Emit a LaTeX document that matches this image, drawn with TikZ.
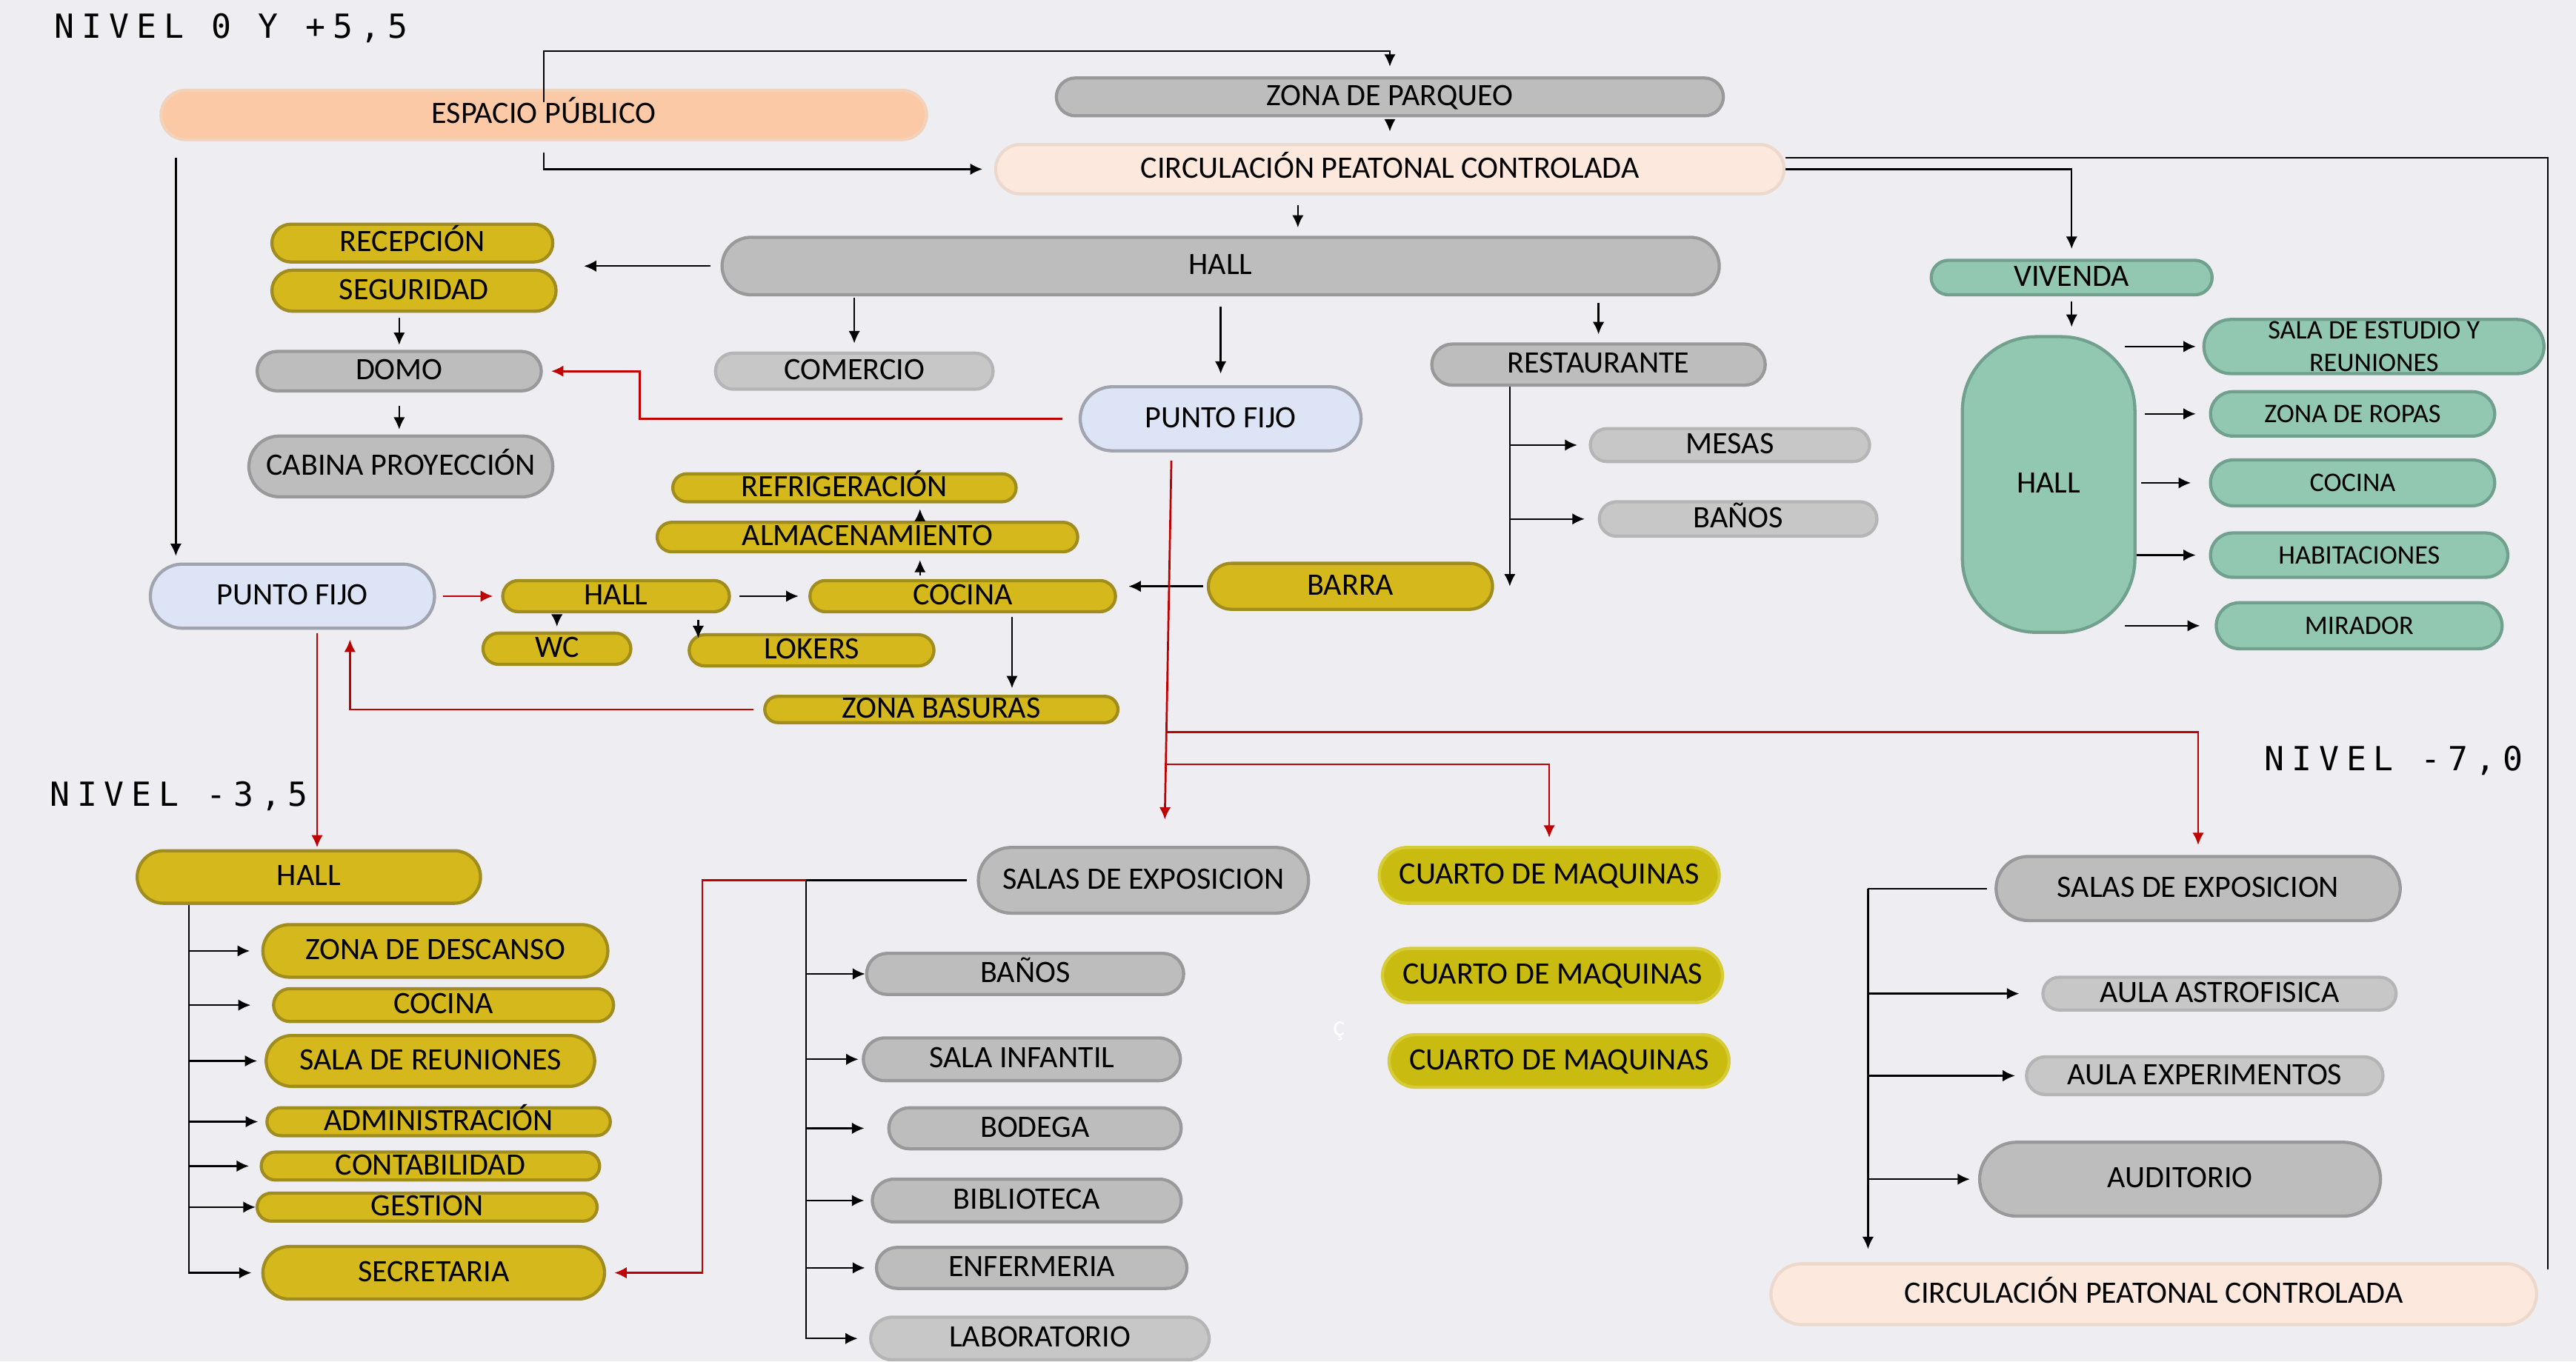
\documentclass[tikz,border=0pt]{standalone}
\usepackage{fontspec}
\setmainfont{Carlito}
\newfontfamily\levelfont[LetterSpace=22]{DejaVu Sans Mono}
\usepackage{tikz}
\usetikzlibrary{arrows.meta, calc, shapes.misc}

\definecolor{fondo}{HTML}{EEEEF2}
\definecolor{grisF}{HTML}{BDBDBD}
\definecolor{grisL}{HTML}{999999}
\definecolor{grisC}{HTML}{C7C7C7}
\definecolor{grisCL}{HTML}{B5B5B5}
\definecolor{amaF}{HTML}{D4B81C}
\definecolor{amaL}{HTML}{A18D1E}
\definecolor{maqF}{HTML}{C9BB10}
\definecolor{maqL}{HTML}{D6CC3A}
\definecolor{verdeF}{HTML}{92C8B2}
\definecolor{verdeL}{HTML}{72A08E}
\definecolor{azulF}{HTML}{DCE4F6}
\definecolor{azulL}{HTML}{A0A4AE}
\definecolor{durF}{HTML}{FBC9A6}
\definecolor{durL}{HTML}{F3D2BC}
\definecolor{pielF}{HTML}{FCE8DC}
\definecolor{pielL}{HTML}{ECD8CC}
\definecolor{rojo}{HTML}{C00000}

\tikzset{
    caja/.style={rounded rectangle, line width=1.1pt, inner xsep=2pt, inner ysep=0pt,
        text height=7pt, text depth=1pt, font=\fontsize{10.8}{12}\selectfont},
    tam/.style 2 args={minimum width=#1*0.2mm, minimum height=#2*0.2mm},
    gris/.style={caja, fill=grisF, draw=grisL},
    grisc/.style={caja, fill=grisC, draw=grisCL},
    amarillo/.style={caja, fill=amaF, draw=amaL},
    maquina/.style={caja, fill=maqF, draw=maqL},
    verde/.style={caja, fill=verdeF, draw=verdeL},
    pieza/.style={verde, font=\fontsize{9.3}{11.2}\selectfont},
    azul/.style={caja, fill=azulF, draw=azulL},
    durazno/.style={caja, fill=durF, draw=durL},
    piel/.style={caja, fill=pielF, draw=pielL},
    nivel/.style={anchor=west, inner sep=0pt, font=\levelfont\fontsize{11.5}{13}\selectfont},
    linea/.style={line width=0.6pt},
    flecha/.style={linea, -{Latex[length=1.5mm, width=1.4mm]}},
    roja/.style={flecha, draw=rojo, line width=0.7pt}
}

\begin{document}
\begin{tikzpicture}[x=0.2mm, y=-0.2mm]
    \path[use as bounding box, fill=fondo] (0,0) rectangle (1568,829);

    \node[nivel] (nivA) at (33,17) {NIVEL 0 Y +5,5};
    \node[nivel] (nivB) at (30,485) {NIVEL -3,5};
    \node[nivel] (nivC) at (1378,463) {NIVEL -7,0};

    \node[durazno, tam={473}{30}] (esp) at (331,70) {ESPACIO PÚBLICO};
    \node[gris, tam={413}{23}] (parq) at (846,59) {ZONA DE PARQUEO};
    \node[piel, tam={487}{30}] (circ) at (846,103) {CIRCULACIÓN PEATONAL CONTROLADA};
    \node[gris, tam={614}{35}] (hallA) at (743,162) {HALL};
    \node[amarillo, tam={178}{23}] (rec) at (251,148) {RECEPCIÓN};
    \node[amarillo, tam={180}{25}] (seg) at (252,177) {SEGURIDAD};
    \node[gris, tam={180}{24}] (domo) at (243,226) {DOMO};
    \node[gris, tam={192}{37}] (cab) at (244,284) {CABINA PROYECCIÓN};
    \node[grisc, tam={176}{22}] (com) at (520,226) {COMERCIO};
    \node[azul, tam={178}{39}] (pfA) at (743,255) {PUNTO FIJO};
    \node[gris, tam={210}{25}] (rest) at (973,222) {RESTAURANTE};
    \node[grisc, tam={177}{20}] (mesas) at (1053,271) {MESAS};
    \node[grisc, tam={176}{21}] (banA) at (1058,316) {BAÑOS};
    \node[amarillo, tam={180}{28}] (barra) at (822,357) {BARRA};
    \node[amarillo, tam={216}{17}] (refri) at (514,297) {REFRIGERACIÓN};
    \node[amarillo, tam={263}{18}] (alma) at (528,327) {ALMACENAMIENTO};
    \node[amarillo, tam={193}{19}] (cocA) at (586,363) {COCINA};
    \node[amarillo, tam={145}{19}] (hallB) at (375,363) {HALL};
    \node[amarillo, tam={97}{19}] (wc) at (339,395) {WC};
    \node[amarillo, tam={156}{19}] (lok) at (494,396) {LOKERS};
    \node[amarillo, tam={222}{16}] (bas) at (573,432) {ZONA BASURAS};
    \node[azul, tam={180}{39}] (pfB) at (178,363) {PUNTO FIJO};

    \node[verde, tam={178}{21}] (viv) at (1261,169) {VIVENDA};
    \node[verde, rectangle, rounded corners=9mm, tam={105}{180}] (hallV) at (1247,295) {HALL};
    \node[pieza, tam={214}{33}, align=center, text height=, text depth=] (est) at (1445,211) {SALA DE ESTUDIO Y\\REUNIONES};
    \node[pieza, tam={180}{27}] (ropa) at (1432,252) {ZONA DE ROPAS};
    \node[pieza, tam={180}{28}] (cocV) at (1432,294) {COCINA};
    \node[pieza, tam={188}{27}] (hab) at (1436,338) {HABITACIONES};
    \node[pieza, tam={181}{28}] (mir) at (1436,381) {MIRADOR};

    \node[amarillo, tam={216}{32}] (hallC) at (188,534) {HALL};
    \node[amarillo, tam={217}{32}] (desc) at (265,579) {ZONA DE DESCANSO};
    \node[amarillo, tam={214}{20}] (cocC) at (270,612) {COCINA};
    \node[amarillo, tam={207}{31}] (reun) at (262,646) {SALA DE REUNIONES};
    \node[amarillo, tam={216}{17}] (adm) at (267,683) {ADMINISTRACIÓN};
    \node[amarillo, tam={213}{17}] (cont) at (262,710) {CONTABILIDAD};
    \node[amarillo, tam={214}{17}] (gest) at (260,735) {GESTION};
    \node[amarillo, tam={215}{32}] (secr) at (264,775) {SECRETARIA};

    \node[gris, tam={208}{40}] (salB) at (696,536) {SALAS DE EXPOSICION};
    \node[gris, tam={200}{25}] (banB) at (624,593) {BAÑOS};
    \node[gris, tam={200}{26}] (inf) at (622,645) {SALA INFANTIL};
    \node[gris, tam={185}{25}] (bod) at (630,687) {BODEGA};
    \node[gris, tam={195}{26}] (bib) at (625,731) {BIBLIOTECA};
    \node[gris, tam={196}{25}] (enf) at (628,772) {ENFERMERIA};
    \node[grisc, tam={213}{26}] (lab) at (633,815) {LABORATORIO};
    \node[maquina, tam={214}{34}] (maqA) at (943,533) {CUARTO DE MAQUINAS};
    \node[maquina, tam={214}{33}] (maqB) at (945,594) {CUARTO DE MAQUINAS};
    \node[maquina, tam={214}{32}] (maqC) at (949,646) {CUARTO DE MAQUINAS};
    \node[text=white, inner sep=0pt] (ced) at (815,628) {ç};

    \node[gris, tam={253}{39}] (salC) at (1338,541) {SALAS DE EXPOSICION};
    \node[grisc, tam={222}{20}] (astro) at (1351,605) {AULA ASTROFISICA};
    \node[grisc, tam={224}{23}] (expe) at (1342,655) {AULA EXPERIMENTOS};
    \node[gris, tam={251}{45}] (aud) at (1327,718) {AUDITORIO};
    \node[piel, tam={473}{37}] (circB) at (1311,788) {CIRCULACIÓN PEATONAL CONTROLADA};

    \coordinate (espT) at ($(esp.north)+(0,8)$);
    \coordinate (espB) at ($(esp.south)+(0,7)$);
    \coordinate (espL) at ($(esp.west)+(10,26)$);
    \coordinate (circH) at ($(circ.south)+(-56,6)$);
    \coordinate (circU) at ($(circ.east)+(0,-7)$);
    \coordinate (circBE) at ($(circB.east)+(6,-15)$);
    \coordinate (restT) at ($(rest.south)+(-54,0)$);
    \coordinate (cocU) at ($(cocA.north)+(-26,-2)$);
    \coordinate (cocD) at ($(cocA.south)+(30,2)$);
    \coordinate (hallL) at ($(hallB.south)+(50,4)$);
    \coordinate (pfBb) at ($(pfB.south)+(35,0)$);
    \coordinate (pfBc) at ($(pfB.south)+(15,2)$);
    \coordinate (pfAr) at ($(pfA.south)+(-30,5)$);
    \coordinate (salBr) at ($(salB.north)+(13,-16)$);
    \coordinate (salBl) at ($(salB.west)+(-104,0)$);
    \coordinate (hallCt) at ($(hallC.south)+(-73,0)$);
    \coordinate (salCl) at ($(salC.west)+(-77,0)$);

    \draw[flecha, shorten >=1.2mm] (espT) -- ++(0,-31) -| (parq.north);
    \draw[flecha, shorten >=1.4mm] (espB) |- (circ.west);
    \draw[flecha, shorten <=0.4mm, shorten >=1.4mm] (parq.south) -- (circ.north);
    \draw[flecha, shorten >=1mm] (circH) -- (circH |- hallA.north);
    \draw[linea] (circU) -| (circBE);
    \draw[flecha, shorten >=1.2mm] (circ.east) -| (viv.north);
    \draw[flecha, shorten <=0.6mm, shorten >=1mm] (viv.south) -- (viv.south |- hallV.north);
    \draw[flecha, shorten >=0.8mm] ($(hallV.east |- est.west)+(-7,0)$) -- (est.west);
    \draw[flecha, shorten <=1mm, shorten >=1.6mm] (hallV.east |- ropa.west) -- (ropa.west);
    \draw[flecha, shorten <=0.6mm, shorten >=2.2mm] (hallV.east |- cocV.west) -- (cocV.west);
    \draw[flecha, shorten >=1.6mm] (hallV.east |- hab.west) -- (hab.west);
    \draw[flecha, shorten >=1.8mm] ($(hallV.east |- mir.west)+(-7,0)$) -- (mir.west);

    \draw[flecha, shorten <=1.2mm, shorten >=3.2mm] (hallA.west) -- (hallA.west -| seg.east);
    \draw[flecha, shorten <=0.6mm, shorten >=0.6mm] (domo.north |- seg.south) -- (domo.north);
    \draw[flecha, shorten <=1.6mm, shorten >=0.6mm] (domo.south) -- (domo.south |- cab.north);
    \draw[flecha, shorten <=0.2mm, shorten >=1mm] (com.north |- hallA.south) -- (com.north);
    \draw[flecha, shorten <=1.2mm, shorten >=1.4mm] (hallA.south) -- (pfA.north);
    \draw[flecha, shorten <=0.8mm, shorten >=1mm] (rest.north |- hallA.south) -- (rest.north);
    \draw[flecha] (restT) -- (restT |- barra.east);
    \draw[flecha, shorten >=1.4mm] (restT |- mesas.west) -- (mesas.west);
    \draw[flecha, shorten >=1.6mm] (restT |- banA.west) -- (banA.west);
    \draw[flecha, shorten <=0.4mm, shorten >=1.4mm] (barra.west) -- (barra.west -| cocA.east);
    \draw[flecha, shorten <=1mm, shorten >=1.2mm] (hallB.east) -- (cocA.west);
    \draw[flecha, shorten >=0.8mm] (cocU) -- (cocU |- alma.south);
    \draw[flecha, shorten >=0.7mm] (cocU |- alma.north) -- (cocU |- refri.south);
    \draw[flecha, shorten <=0.2mm, shorten >=0.6mm] (wc.north |- hallB.south) -- (wc.north);
    \draw[flecha, shorten >=-0.6mm] (hallL) -- (hallL |- lok.north);
    \draw[flecha, shorten >=0.8mm] (cocD) -- (cocD |- bas.north);
    \draw[flecha, shorten >=0.8mm] (espL) -- (espL |- pfB.north);

    \draw[roja, shorten <=2mm, shorten >=1mm] (pfA.west) -- ++(-267,0) |- (domo.east);
    \draw[roja, shorten <=0.8mm, shorten >=1mm] (pfB.east) -- (hallB.west);
    \draw[roja, shorten <=1.2mm, shorten >=1.2mm] (bas.west) -| (pfBb);
    \draw[roja, shorten >=0.2mm] (pfBc) -- (pfBc |- hallC.north);
    \draw[roja] (pfAr) -- (salBr);
    \draw[roja, shorten >=1.2mm] ($(pfAr)!0.756!(salBr)$) -| (salC.north);
    \draw[roja, shorten >=1mm] ($(pfAr)!0.846!(salBr)$) -| (maqA.north);

    \draw[linea, shorten <=1.2mm] (salB.west) -- (salBl);
    \draw[roja, shorten >=1mm] (salBl) -- ++(-63,0) |- (secr.east);
    \draw[flecha, shorten >=1.4mm] (salBl) |- (lab.west);
    \draw[flecha] (salBl |- banB.west) -- (banB.west);
    \draw[flecha, shorten >=0.4mm] (salBl |- inf.west) -- (inf.west);
    \draw[flecha, shorten >=2.8mm] (salBl |- bod.west) -- (bod.west);
    \draw[flecha, shorten >=0.8mm] (salBl |- bib.west) -- (bib.west);
    \draw[flecha, shorten >=1.2mm] (salBl |- enf.west) -- (enf.west);

    \draw[flecha, shorten >=1.2mm] (hallCt) |- (secr.west);
    \draw[flecha, shorten >=1.4mm] (hallCt |- desc.west) -- (desc.west);
    \draw[flecha, shorten >=2.6mm] (hallCt |- cocC.west) -- (cocC.west);
    \draw[flecha, shorten >=0.9mm] (hallCt |- reun.west) -- (reun.west);
    \draw[flecha, shorten >=0.9mm] (hallCt |- adm.west) -- (adm.west);
    \draw[flecha, shorten >=1.3mm] (hallCt |- cont.west) -- (cont.west);
    \draw[flecha] (hallCt |- gest.west) -- (gest.west);

    \draw[linea, shorten <=0.9mm] (salC.west) -- (salCl);
    \draw[flecha, shorten >=1.6mm] (salCl) -- (salCl |- circB.north);
    \draw[flecha, shorten >=2.7mm] (salCl |- astro.west) -- (astro.west);
    \draw[flecha, shorten >=1.2mm] (salCl |- expe.west) -- (expe.west);
    \draw[flecha, shorten >=1mm] (salCl |- aud.west) -- (aud.west);
\end{tikzpicture}
\end{document}
